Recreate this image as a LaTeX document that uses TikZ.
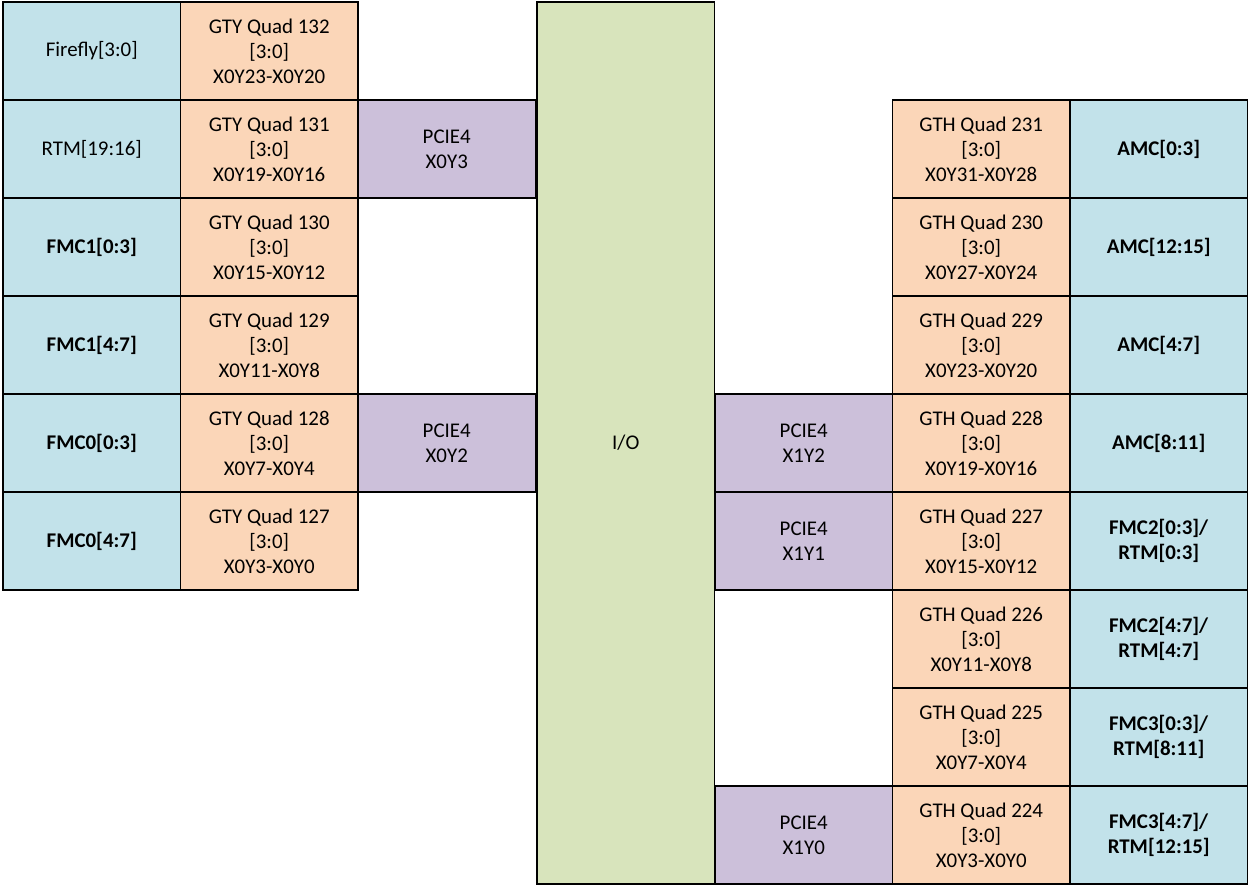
\documentclass[tikz,border=0pt]{standalone}
\usepackage{fontspec}
\setmainfont{Carlito}
\usetikzlibrary{positioning}
\definecolor{lanecyan}{RGB}{194,226,234}
\definecolor{quadpeach}{RGB}{251,214,184}
\definecolor{pcielilac}{RGB}{204,192,218}
\definecolor{iogreen}{RGB}{216,228,188}
\tikzstyle{cellstyle}=[draw=black, line width=1.1pt, inner sep=0pt, outer sep=0pt,
  minimum width=3.55cm, minimum height=1.96cm, align=center,
  font=\fontsize{11.9}{14.2}\selectfont]
\tikzstyle{lane} = [cellstyle, fill=lanecyan]
\tikzstyle{quad} = [cellstyle, fill=quadpeach]
\tikzstyle{pcie} = [cellstyle, fill=pcielilac]
\tikzstyle{iobank} = [cellstyle, fill=iogreen, minimum height=17.64cm]

\begin{document}
\begin{tikzpicture}
\useasboundingbox (0,0) rectangle (25.02,-17.74);
% Left side: lanes and GTY quads
\path (0.06,-0.04) node[anchor=north west, lane] (l0) {Firefly[3:0]};
\path (l0.south) node[anchor=north, lane] (l1) {RTM[19:16]};
\path (l1.south) node[anchor=north, lane] (l2) {\textbf{FMC1[0:3]}};
\path (l2.south) node[anchor=north, lane] (l3) {\textbf{FMC1[4:7]}};
\path (l3.south) node[anchor=north, lane] (l4) {\textbf{FMC0[0:3]}};
\path (l4.south) node[anchor=north, lane] (l5) {\textbf{FMC0[4:7]}};

\path (l0.east) node[anchor=west, quad] (q132) {GTY Quad 132\\ {[3:0]}\\ X0Y23-X0Y20};
\path (l1.east) node[anchor=west, quad] (q131) {GTY Quad 131\\ {[3:0]}\\ X0Y19-X0Y16};
\path (l2.east) node[anchor=west, quad] (q130) {GTY Quad 130\\ {[3:0]}\\ X0Y15-X0Y12};
\path (l3.east) node[anchor=west, quad] (q129) {GTY Quad 129\\ {[3:0]}\\ X0Y11-X0Y8};
\path (l4.east) node[anchor=west, quad] (q128) {GTY Quad 128\\ {[3:0]}\\ X0Y7-X0Y4};
\path (l5.east) node[anchor=west, quad] (q127) {GTY Quad 127\\ {[3:0]}\\ X0Y3-X0Y0};

\path (q131.east) node[anchor=west, pcie] (p03) {PCIE4\\ X0Y3};
\path (q128.east) node[anchor=west, pcie] (p02) {PCIE4\\ X0Y2};

% Centre: I/O column
\path (q132.north east) + (3.58,0) node[anchor=north west, iobank] (io) {I/O};

% Right side: GTH quads and lanes
\path (io.north east) + (3.56,-1.96) node[anchor=north west, quad] (q231) {GTH Quad 231\\ {[3:0]}\\ X0Y31-X0Y28};
\path (q231.south) node[anchor=north, quad] (q230) {GTH Quad 230\\ {[3:0]}\\ X0Y27-X0Y24};
\path (q230.south) node[anchor=north, quad] (q229) {GTH Quad 229\\ {[3:0]}\\ X0Y23-X0Y20};
\path (q229.south) node[anchor=north, quad] (q228) {GTH Quad 228\\ {[3:0]}\\ X0Y19-X0Y16};
\path (q228.south) node[anchor=north, quad] (q227) {GTH Quad 227\\ {[3:0]}\\ X0Y15-X0Y12};
\path (q227.south) node[anchor=north, quad] (q226) {GTH Quad 226\\ {[3:0]}\\ X0Y11-X0Y8};
\path (q226.south) node[anchor=north, quad] (q225) {GTH Quad 225\\ {[3:0]}\\ X0Y7-X0Y4};
\path (q225.south) node[anchor=north, quad] (q224) {GTH Quad 224\\ {[3:0]}\\ X0Y3-X0Y0};

\path (q231.east) node[anchor=west, lane] (r1) {\textbf{AMC[0:3]}};
\path (q230.east) node[anchor=west, lane] (r2) {\textbf{AMC[12:15]}};
\path (q229.east) node[anchor=west, lane] (r3) {\textbf{AMC[4:7]}};
\path (q228.east) node[anchor=west, lane] (r4) {\textbf{AMC[8:11]}};
\path (q227.east) node[anchor=west, lane] (r5) {\textbf{FMC2[0:3]/}\\ \textbf{RTM[0:3]}};
\path (q226.east) node[anchor=west, lane] (r6) {\textbf{FMC2[4:7]/}\\ \textbf{RTM[4:7]}};
\path (q225.east) node[anchor=west, lane] (r7) {\textbf{FMC3[0:3]/}\\ \textbf{RTM[8:11]}};
\path (q224.east) node[anchor=west, lane] (r8) {\textbf{FMC3[4:7]/}\\ \textbf{RTM[12:15]}};

\path (q228.west) node[anchor=east, pcie] (p12) {PCIE4\\ X1Y2};
\path (q227.west) node[anchor=east, pcie] (p11) {PCIE4\\ X1Y1};
\path (q224.west) node[anchor=east, pcie] (p10) {PCIE4\\ X1Y0};
\end{tikzpicture}
\end{document}
